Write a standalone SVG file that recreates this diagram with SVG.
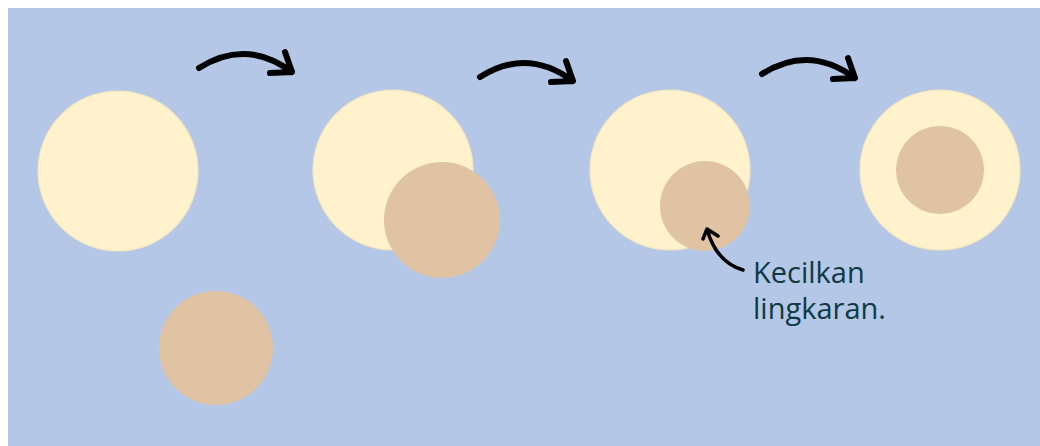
<svg xmlns="http://www.w3.org/2000/svg" width="1040" height="446" viewBox="0 0 1040 446">
<style>
.big{fill:#FFF2CC;stroke:#F5E6BE;stroke-width:1.2}
.tan{fill:#E0C3A3}
.arr{fill:none;stroke:#000;stroke-width:6;stroke-linecap:round;stroke-linejoin:round}
.arr2{fill:none;stroke:#000;stroke-width:3.5;stroke-linecap:round;stroke-linejoin:round}
.lbl{font-family:"Open Sans","Noto Sans",sans-serif;font-size:29px;fill:#0E3A44}
</style>
<rect x="8" y="8" width="1032" height="438" fill="#B4C7E7"/>
<g id="step1">
<circle class="big" cx="118" cy="171" r="80"/>
<circle class="tan" cx="216" cy="348" r="57"/>
</g>
<g id="step2">
<circle class="big" cx="393" cy="170" r="80"/>
<circle class="tan" cx="442" cy="220" r="58"/>
</g>
<g id="step3">
<circle class="big" cx="670" cy="170" r="80"/>
<circle class="tan" cx="705" cy="206" r="45"/>
</g>
<g id="step4">
<circle class="big" cx="940" cy="170" r="80"/>
<circle class="tan" cx="940" cy="170" r="44"/>
</g>
<g id="connectors">
<path class="arr" d="M199,68 Q246,38 292,72 M285,52 L292,72 L270,73"/>
<path class="arr" d="M480,77 Q527,47 573,81 M566,61 L573,81 L551,82"/>
<path class="arr" d="M762,74 Q809,44 855,78 M848,58 L855,78 L833,79"/>
<path class="arr2" d="M743,270 Q716,262 707,229 M703,239 L707,229 L718,236"/>
</g>
<g id="label">
<text class="lbl" x="753" y="283">Kecilkan</text>
<text class="lbl" x="753" y="319">lingkaran.</text>
</g>
</svg>
